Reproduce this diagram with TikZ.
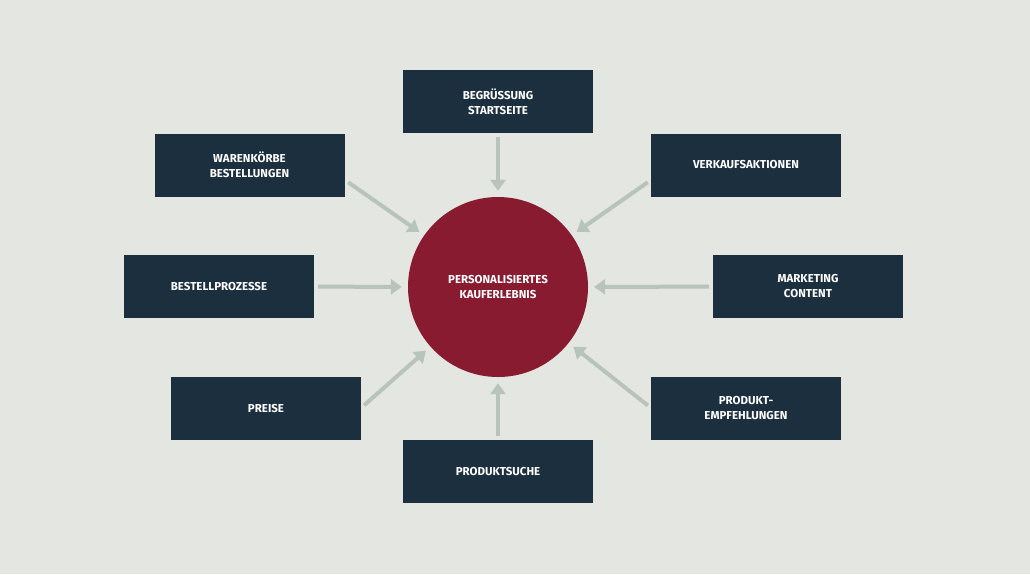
\documentclass[tikz,border=0pt]{standalone}
\usepackage{fontspec}
\setmainfont{Fira Sans}
\usetikzlibrary{arrows.meta}
\definecolor{bg}{HTML}{E3E6E1}
\definecolor{navy}{HTML}{1B2F3F}
\definecolor{wine}{HTML}{891B30}
\definecolor{arr}{HTML}{B8C3BB}
\begin{document}
\begin{tikzpicture}[x=1pt,y=-1pt,
  box/.style={fill=navy,minimum width=190pt,minimum height=63pt,inner sep=0pt,
    text=white,font=\bfseries\fontsize{11.5}{15}\selectfont,align=center},
  con/.style={draw=arr,line width=4pt,-{Triangle[length=11pt,width=15pt]},shorten <=4pt,shorten >=6pt}]
\fill[bg] (0,0) rectangle (1030,574);
\useasboundingbox (0,0) rectangle (1030,574);
\node[circle,fill=wine,minimum size=180pt,text=white,font=\bfseries\fontsize{11.5}{15}\selectfont,align=center] (c) at (498,287) {PERSONALISIERTES\\KAUFERLEBNIS};
\node[box] (a) at (498,101.5) {BEGRÜSSUNG\\STARTSEITE};
\node[box] (b) at (249.5,165) {WARENKÖRBE\\BESTELLUNGEN};
\node[box] (d) at (746,165) {VERKAUFSAKTIONEN};
\node[box] (e) at (219,286.5) {BESTELLPROZESSE};
\node[box] (f) at (808,286.5) {MARKETING\\CONTENT};
\node[box] (g) at (266,408.5) {PREISE};
\node[box] (h) at (746,408.5) {PRODUKT-\\EMPFEHLUNGEN};
\node[box] (i) at (498,471.5) {PRODUKTSUCHE};
\draw[con] (a) -- (c);
\draw[con] (i) -- (c);
\draw[con] (e) -- (c);
\draw[con] (f) -- (c);
\coordinate (b1) at (345,180);
\coordinate (d1) at (651,180);
\coordinate (g1) at (361,408);
\coordinate (h1) at (651,408);
\draw[con] (b1) -- (c);
\draw[con] (d1) -- (c);
\draw[con] (g1) -- (c);
\draw[con] (h1) -- (c);
\end{tikzpicture}
\end{document}
